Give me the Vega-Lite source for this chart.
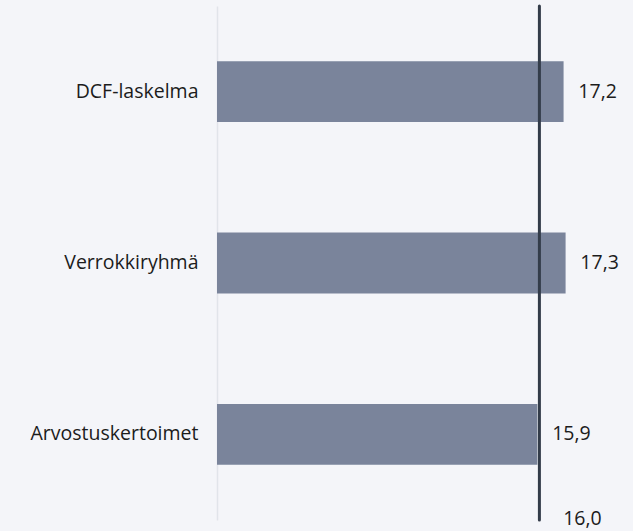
{
  "$schema": "https://vega.github.io/schema/vega-lite/v6.json",
  "autosize": {"type": "none"},
  "padding": {"left": 217, "top": 6, "right": 13, "bottom": 11},
  "width": 403,
  "height": 514,
  "background": "#f4f5f9",
  "config": {
    "view": {"stroke": null},
    "locale": {"number": {"decimal": ",", "thousands": " ", "grouping": [3], "currency": ["", " €"]}},
    "font": "Open Sans"
  },
  "data": {"values": [
    {"menetelma": "DCF-laskelma", "arvo": 17.2},
    {"menetelma": "Verrokkiryhmä", "arvo": 17.3},
    {"menetelma": "Arvostuskertoimet", "arvo": 15.9}
  ]},
  "layer": [
    {
      "mark": {"type": "bar", "color": "#7a849b"},
      "encoding": {
        "y": {"field": "menetelma", "type": "nominal", "sort": null,
              "scale": {"paddingInner": 0.645, "paddingOuter": 0.3225},
              "axis": {"title": null, "ticks": false, "labelPadding": 19, "labelFontSize": 19.5, "labelColor": "#1c1c1c", "labelFont": "Open Sans", "domainColor": "#e1e4ea", "domainWidth": 1.5, "grid": false}},
        "x": {"field": "arvo", "type": "quantitative", "scale": {"domain": [0, 20]}, "axis": null}
      }
    },
    {
      "mark": {"type": "text", "align": "center", "baseline": "middle", "dx": 34, "fontSize": 19.5, "color": "#1c1c1c", "font": "Open Sans"},
      "encoding": {
        "y": {"field": "menetelma", "type": "nominal", "sort": null},
        "x": {"field": "arvo", "type": "quantitative"},
        "text": {"field": "arvo", "type": "quantitative", "format": ".1f"}
      }
    },
    {
      "data": {"values": [{"tavoite": 16.0}]},
      "layer": [
        {
          "mark": {"type": "rule", "color": "#333c49", "strokeWidth": 3, "strokeCap": "round"},
          "encoding": {"x": {"field": "tavoite", "type": "quantitative"}}
        },
        {
          "mark": {"type": "text", "align": "center", "baseline": "middle", "dx": 43, "dy": -1, "fontSize": 19.5, "color": "#1c1c1c", "font": "Open Sans"},
          "encoding": {
            "x": {"field": "tavoite", "type": "quantitative"},
            "y": {"value": {"expr": "height"}},
            "text": {"field": "tavoite", "type": "quantitative", "format": ".1f"}
          }
        }
      ]
    }
  ]
}
